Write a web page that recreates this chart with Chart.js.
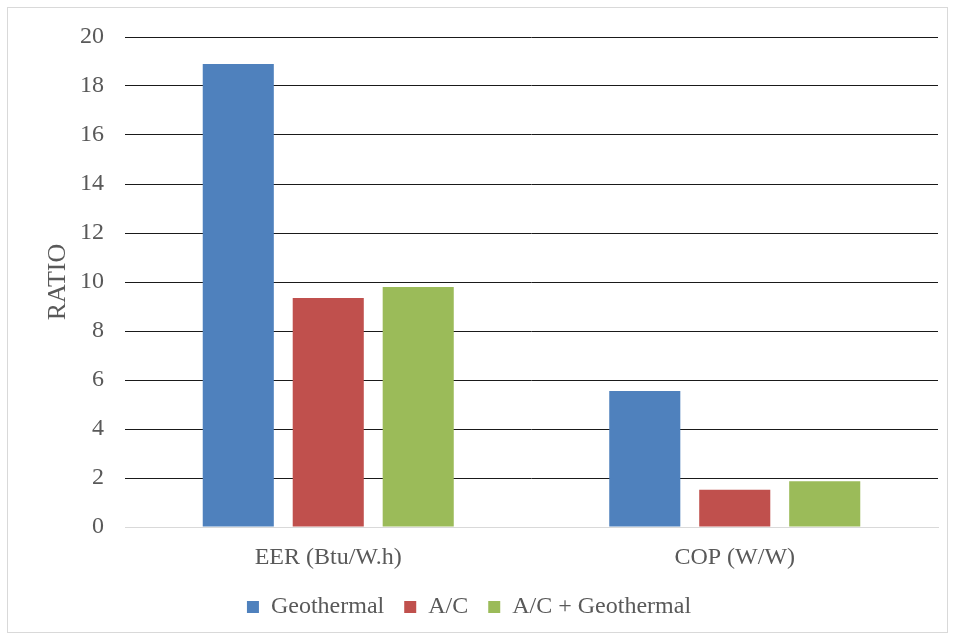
<!DOCTYPE html>
<html>
<head>
<meta charset="utf-8">
<title>RATIO</title>
<script src="https://cdn.jsdelivr.net/npm/chart.js@4/dist/chart.umd.min.js"></script>
<style>
    html, body { margin: 0; padding: 0; background: #ffffff; font-family: 'Liberation Serif', serif; }
    #wrap { position: relative; width: 955px; height: 639px; }
</style>
</head>
<body>
<div id="wrap"><canvas id="ratioChart" width="955" height="639"></canvas></div>
<script>
const categories = ['EER (Btu/W.h)', 'COP (W/W)'];
const seriesNames = ['Geothermal', 'A/C', 'A/C + Geothermal'];
const geothermal = [18.9, 5.55];
const airCon = [9.35, 1.52];
const airConGeo = [9.8, 1.87];
const yTicks = [0, 2, 4, 6, 8, 10, 12, 14, 16, 18, 20];

const serif = '"Liberation Serif", "Times New Roman", serif';
const textColor = '#595959';

const frame = {
    id: 'frame',
    beforeDraw(chart)
    {
        const c = chart.ctx;
        c.save();
        c.fillStyle = '#ffffff';
        c.fillRect(0, 0, chart.width, chart.height);
        c.strokeStyle = '#d9d9d9';
        c.lineWidth = 1;
        c.strokeRect(7.5, 7.5, 940, 625);
        c.restore();
    }
};

function drawChart()
{
    const ctx = document.getElementById('ratioChart').getContext('2d');
    new Chart(ctx, {
        type: 'bar',
        data:
        {
            labels: categories,
            datasets:
            [
                { label: seriesNames[0], data: geothermal, backgroundColor: '#4f81bd' },
                { label: seriesNames[1], data: airCon, backgroundColor: '#c0504d' },
                { label: seriesNames[2], data: airConGeo, backgroundColor: '#9bbb59' }
            ]
        },
        plugins: [frame],
        options:
        {
            responsive: false,
            animation: false,
            layout: { padding: { top: 37, right: 17, bottom: 10, left: 0 } },
            datasets: { bar: { categoryPercentage: 0.664, barPercentage: 0.79 } },
            plugins:
            {
                tooltip: { enabled: false },
                legend:
                {
                    position: 'bottom',
                    labels:
                    {
                        boxWidth: 12,
                        boxHeight: 12,
                        padding: 20,
                        color: textColor,
                        font: { family: serif, size: 24 }
                    }
                }
            },
            scales:
            {
                x:
                {
                    grid: { display: false },
                    border: { color: '#d9d9d9', width: 1 },
                    ticks: { color: textColor, padding: 8, font: { family: serif, size: 24 } },
                    afterFit(scale) { scale.height = 48; }
                },
                y:
                {
                    min: 0,
                    max: 20,
                    afterBuildTicks(scale) { scale.ticks = yTicks.map(v => ({ value: v })); },
                    grid: { color: c => c.tick && c.tick.value === 0 ? '#d9d9d9' : '#1a1a1a', drawTicks: false },
                    border: { display: false },
                    ticks: { color: textColor, padding: 21, font: { family: serif, size: 24 } },
                    title:
                    {
                        display: true,
                        text: 'RATIO',
                        color: textColor,
                        padding: { top: 43, bottom: 0 },
                        font: { family: serif, size: 26 }
                    },
                    afterFit(scale) { scale.width = 125; }
                }
            }
        }
    });
}

document.fonts.load('24px "Liberation Serif"').then(drawChart, drawChart);
</script>
</body>
</html>
